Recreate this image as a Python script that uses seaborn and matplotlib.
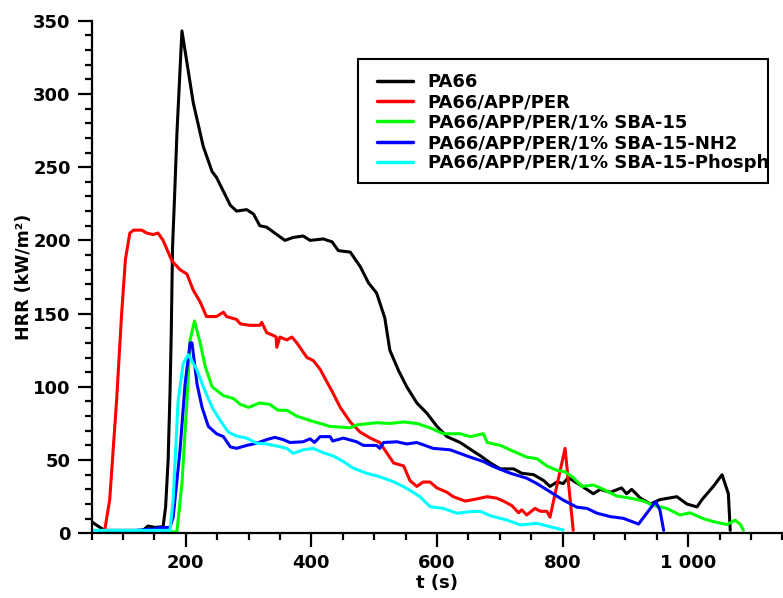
import pandas as pd
import matplotlib
matplotlib.use("Agg")
import matplotlib.pyplot as plt
import matplotlib.ticker as mticker
from matplotlib.patches import Rectangle
import seaborn as sns

# Courbes HRR
pa66_t = [50, 60, 71, 132, 140, 151, 164, 168, 172, 175, 177, 179, 182, 186, 194,
          212, 228, 242, 249, 271, 281, 297, 308, 318, 329, 345, 358, 371, 387, 398,
          419, 433, 443, 462, 478, 491, 504, 517, 525, 539, 552, 568, 584, 600, 616,
          637, 658, 669, 685, 701, 722, 735, 754, 770, 780, 791, 801, 809, 828, 849,
          860, 876, 894, 902, 910, 924, 940, 955, 982, 998, 1014, 1022, 1040, 1054,
          1064, 1067]
pa66_hrr = [8, 5, 2, 2, 5, 4, 4.5, 18, 50, 96, 137, 195, 227, 273, 343,
            294, 264, 247, 243, 224, 220, 221, 218, 210, 209, 204, 200, 202, 203, 200,
            201, 199, 193, 192, 182, 171, 164, 147, 125, 111, 100, 89, 82, 73, 66,
            62, 56, 53, 48, 44, 44, 41, 40, 36, 32, 35, 34, 38, 33, 27,
            30, 28, 31, 27, 30, 24, 20, 23, 25, 20, 18, 23, 32, 40,
            27, 2]

app_t = [71, 79, 90, 98, 104, 111, 117, 130, 138, 148, 156, 164, 178, 191, 202,
         212, 223, 233, 249, 260, 265, 281, 287, 302, 318, 321, 329, 340, 344, 345,
         350, 361, 369, 377, 393, 403, 414, 424, 433, 446, 462, 478, 494, 509, 520,
         531, 547, 557, 568, 578, 589, 600, 616, 626, 645, 658, 680, 695, 706, 719,
         730, 735, 743, 756, 765, 775, 780, 804, 817]
app_hrr = [2, 23, 91, 150, 187, 205, 207, 207, 205, 204, 205, 200, 186, 180, 177,
           166, 158, 148, 148, 151, 148, 146, 143, 142, 142, 144, 137, 135, 134, 127,
           134, 132, 134, 130, 120, 118, 112, 104, 97, 86, 76, 69, 65, 62, 55,
           48, 46, 36, 32, 35, 35, 31, 28, 25, 22, 23, 25, 24, 22, 19,
           14, 16, 12.5, 17, 15, 15, 11, 58, 2]

sba_t = [170, 186, 194, 202, 207, 214, 223, 231, 242, 260, 276, 287, 300, 318, 334,
         347, 361, 377, 398, 414, 430, 462, 472, 504, 525, 547, 568, 589, 610, 637,
         653, 674, 680, 701, 727, 743, 759, 775, 791, 804, 817, 831, 849, 865, 886,
         908, 929, 945, 966, 987, 1003, 1024, 1040, 1062, 1075, 1083, 1088]
sba_hrr = [1, 1, 34, 91, 132, 145, 130, 114, 100, 94, 92, 88, 86, 89, 88,
           84, 84, 80, 77, 75, 73, 72, 74, 75.5, 75, 76, 75, 72, 68, 68,
           66, 68, 62, 60, 55, 52, 51, 46, 43, 42, 38, 32, 33, 30, 25.5,
           24, 22, 19, 17, 12.5, 14, 10, 8, 6, 9, 6, 2]

nh2_t = [88, 92, 95, 149, 159, 175, 180, 191, 199, 207, 210, 218, 226, 236, 249,
         260, 271, 281, 297, 313, 329, 342, 355, 366, 387, 398, 405, 414, 430, 434,
         451, 472, 483, 504, 509, 515, 536, 552, 568, 594, 621, 653, 674, 690, 717,
         743, 759, 780, 801, 823, 839, 855, 876, 897, 921, 934, 948, 955, 961]
nh2_hrr = [1, 2, 1, 3, 4, 4, 11, 57, 102, 130, 130, 102, 86, 73, 68,
           66, 59, 58, 60, 61.5, 64, 65.5, 64, 62, 62.5, 64.5, 62, 66, 66, 63,
           65, 62.5, 60, 60, 58, 62, 62.5, 61, 62, 58, 57, 52, 49, 45.5, 41,
           37.6, 34, 28.4, 22.7, 17.8, 17, 13.7, 11.4, 10.2, 6.3, 13.7, 21.6, 16, 2]

phos_t = [50, 175, 180, 188, 196, 204, 218, 228, 242, 255, 268, 281, 297, 313, 329,
          345, 361, 371, 387, 403, 419, 435, 451, 467, 488, 509, 531, 552, 573, 589,
          610, 632, 653, 669, 685, 701, 711, 733, 759, 780, 801]
phos_hrr = [2, 2, 23, 91, 116, 122, 111.5, 100, 86, 77, 69, 66.4, 65, 61.5, 61,
            59.6, 58, 54.6, 57, 58, 55, 52.8, 49, 44.4, 41, 38.6, 35.2, 30.7, 25, 18.2,
            17, 13.7, 14.8, 15, 12, 10.2, 9.1, 5.7, 6.8, 4.5, 2.3]

labels = ["PA66", "PA66/APP/PER", "PA66/APP/PER/1% SBA-15",
          "PA66/APP/PER/1% SBA-15-NH2", "PA66/APP/PER/1% SBA-15-Phosph"]
colors = ["#000000", "#ff0000", "#00ff00", "#0000ff", "#00ffff"]

series = [(pa66_t, pa66_hrr), (app_t, app_hrr), (sba_t, sba_hrr),
          (nh2_t, nh2_hrr), (phos_t, phos_hrr)]
frames = []
for lab, (t, h) in zip(labels, series):
    frames.append(pd.DataFrame({"t": t, "HRR": h, "echantillon": lab}))
df = pd.concat(frames, ignore_index=True)

sns.set_style("ticks", {"axes.edgecolor": "black", "xtick.color": "black",
                        "ytick.color": "black", "text.color": "black",
                        "axes.labelcolor": "black"})
plt.rcParams["font.family"] = ["DejaVu Sans"]

fig = plt.figure(figsize=(7.83, 5.98), dpi=100)
ax = fig.add_axes([91.5 / 783, 1 - 533.3 / 598, 1 - 91.5 / 783, (533.3 - 20.7) / 598])

sns.lineplot(data=df, x="t", y="HRR", hue="echantillon", hue_order=labels,
             palette=colors, sort=False, estimator=None, linewidth=2.2, ax=ax)

ax.set_xlim(50, 1151)
ax.set_ylim(0, 350)
ax.spines["top"].set_visible(False)
ax.spines["right"].set_visible(False)
for s in ["left", "bottom"]:
    ax.spines[s].set_linewidth(1.6)

ax.xaxis.set_major_locator(mticker.FixedLocator([200, 400, 600, 800, 1000]))
ax.xaxis.set_minor_locator(mticker.MultipleLocator(50))
ax.yaxis.set_major_locator(mticker.MultipleLocator(50))
ax.yaxis.set_minor_locator(mticker.MultipleLocator(10))
ax.xaxis.set_major_formatter(mticker.FuncFormatter(lambda v, p: f"{int(v):,}".replace(",", " ")))
ax.tick_params(which="major", direction="out", length=10, width=1.6,
               labelsize=13, pad=5, colors="black")
ax.tick_params(which="minor", direction="out", length=5, width=1.6, colors="black")
for lbl in ax.get_xticklabels() + ax.get_yticklabels():
    lbl.set_fontweight("bold")

ax.set_xlabel("t (s)", fontsize=13, fontweight="bold", labelpad=1, color="black")
ax.set_ylabel("HRR (kW/m²)", fontsize=12.5, fontweight="bold", labelpad=0, color="black")

handles, _ = ax.get_legend_handles_labels()
leg = ax.legend(handles, labels, frameon=False, loc="upper left",
                bbox_to_anchor=(377 / 783, 1 - 73 / 598), bbox_transform=fig.transFigure,
                prop={"size": 13, "weight": "bold"}, borderpad=0, borderaxespad=0,
                handlelength=2.0, handletextpad=0.8, labelspacing=0.13)
for lh in leg.get_lines():
    lh.set_linewidth(2.5)
for txt in leg.get_texts():
    txt.set_color("black")

fig.patches.append(Rectangle((358.3 / 783, 1 - 183.3 / 598), (768 - 358.3) / 783,
                             (183.3 - 59.3) / 598, transform=fig.transFigure,
                             fill=False, edgecolor="black", linewidth=1.5, zorder=5))

plt.savefig("out.png", dpi=100)
